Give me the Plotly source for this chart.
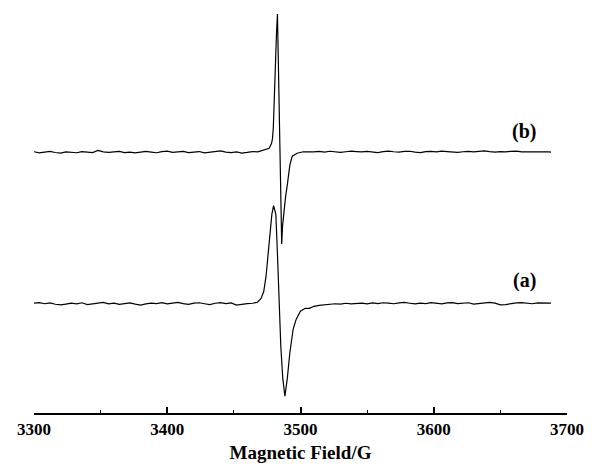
import plotly.graph_objects as go

# ---------------- data ----------------
# magnetic field (G) sample positions and derivative intensities (a.u.)
field_a = [3300, 3304, 3308, 3312, 3316, 3320, 3324, 3328, 3332, 3336, 3340, 3344, 3348, 3352,
           3356, 3360, 3364, 3368, 3372, 3376, 3380, 3384, 3388, 3392, 3396, 3400, 3404, 3408,
           3412, 3416, 3420, 3424, 3428, 3432, 3436, 3440, 3444, 3448, 3452, 3456, 3460, 3464,
           3467.5, 3470.4, 3472.4, 3474.1, 3475.8, 3477.3, 3478.5, 3479.8, 3481.5, 3482.7,
           3483.9, 3485.2, 3486.7, 3488.3, 3490.1, 3492.0, 3494.5, 3496.8, 3499.9, 3503.6,
           3506.8, 3510, 3514, 3518,
           3522, 3526, 3530, 3534, 3538, 3542, 3546, 3550, 3554, 3558, 3562, 3566, 3570, 3574,
           3578, 3582, 3586, 3590, 3594, 3598, 3602, 3606, 3610, 3614, 3618, 3622, 3626, 3630,
           3634, 3638, 3642, 3646, 3650, 3654, 3658, 3662, 3666, 3670, 3674, 3678, 3682, 3686,
           3688]
signal_a = [0.2, 0.8, -0.4, 0.5, -0.9, -1.6, -0.7, 0.3, -0.5, 0.6, -1.2, -0.3, 0.4, 0.9,
            -0.6, 0.2, -1.0, -0.4, 0.5, -0.8, -1.8, -0.6, 0.3, -0.2, 0.7, -0.5, 0.4, 0.9,
            -0.3, -1.1, 0.2, 0.6, -0.4, -1.3, 0.1, 0.8, -0.2, 0.5, -1.7, -0.8, -0.3, 0.1,
            1, 5, 12, 27, 50, 74, 90, 99, 90, 50,
            0, -43, -76, -94, -76, -50, -26, -16, -8, -5,
            -5, -3, -2, -1.5,
            -1.0, -0.4, -0.8, 0.1, -0.6, -0.2, 0.3, -0.5, 0.4, -0.3, 0.6, 0.2, -0.4, 0.5,
            0.9, 0.1, -0.6, 0.3, -0.2, 0.7, 0.2, -0.5, 0.4, 0.8, -0.3, 0.1, 0.6, -0.7,
            -0.2, 0.5, 0.9, 0.3, -1.6, -1.2, -0.3, 0.4, 0.7, 0.1, -0.4, 0.5, 0.2, -0.1,
            0.3]

field_b = [3300, 3304, 3308, 3312, 3316, 3320, 3324, 3328, 3332, 3336, 3340, 3344, 3348, 3352,
           3356, 3360, 3364, 3368, 3372, 3376, 3380, 3384, 3388, 3392, 3396, 3400, 3404, 3408,
           3412, 3416, 3420, 3424, 3428, 3432, 3436, 3440, 3444, 3448, 3452, 3456, 3460, 3464,
           3468,
           3472.6, 3476.5, 3478.3, 3479.0, 3479.6, 3480.2, 3480.9, 3482.0, 3482.7, 3483.4,
           3484.0, 3484.6, 3485.2, 3485.9, 3486.5, 3487.6, 3488.8, 3490.1, 3492.0, 3493.8,
           3497.5, 3502, 3506,
           3510, 3514, 3518, 3522, 3526, 3530, 3534, 3538, 3542, 3546, 3550, 3554, 3558, 3562,
           3566, 3570, 3574, 3578, 3582, 3586, 3590, 3594, 3598, 3602, 3606, 3610, 3614, 3618,
           3622, 3626, 3630, 3634, 3638, 3642, 3646, 3650, 3654, 3658, 3662, 3666, 3670, 3674,
           3678, 3682, 3686, 3688]
signal_b = [0.5, -0.6, 0.2, 0.9, -0.3, -0.8, 0.4, 0.1, -0.5, 0.7, 0.2, -0.4, 1.8, 0.3,
            -0.2, 0.6, 0.9, -0.3, 0.2, -0.7, 0.4, 0.8, 0.1, -0.5, 0.6, 1.2, -0.2, 0.3,
            0.9, -0.4, 0.5, 0.7, -0.6, 0.2, 0.8, 1.3, 0.1, -0.4, 0.3, -0.8, -0.2, 0.6,
            0.4,
            2, 4, 9, 14, 25, 54, 87, 121, 140, 90,
            40, -10, -50, -93, -75, -59, -45, -33, -13, -4,
            -1, 0.5, 0.3,
            0.4, 0.8, 0.2, 1.0, 0.6, -0.2, 0.5, 1.1, 0.7, 0.3, 0.9, 0.4, -0.3, 0.6,
            1.2, 0.5, 0.2, 0.8, 1.0, 0.1, -0.4, 0.7, 0.9, 0.3, 1.1, 0.6, 0.2, -0.2,
            0.5, 0.9, 0.4, 0.8, 1.3, 0.6, 0.1, 0.7, 0.3, 0.9, 1.2, 0.4, 0.6, 0.2,
            0.8, 0.5, 0.3, 0.1]

offset_b = 153          # vertical stacking offset of spectrum (b)
labels = ["(a)", "(b)"]
label_x = 3668
label_y = [23, 174]

x_ticks = [3300, 3400, 3500, 3600, 3700]
x_title = "Magnetic Field/G"

# ---------------- figure ----------------
serif = "Liberation Serif, Times New Roman, serif"

fig = go.Figure()
fig.add_trace(go.Scatter(x=field_a, y=signal_a, mode="lines",
                         line=dict(color="black", width=1.2), showlegend=False,
                         hoverinfo="skip"))
fig.add_trace(go.Scatter(x=field_b, y=[v + offset_b for v in signal_b], mode="lines",
                         line=dict(color="black", width=1.2), showlegend=False,
                         hoverinfo="skip"))

for t, yy in zip(labels, label_y):
    fig.add_annotation(x=label_x, y=yy, text="<b>" + t + "</b>", showarrow=False,
                       font=dict(family=serif, size=20, color="black"))

fig.update_layout(
    width=594, height=470,
    margin=dict(l=34, r=18, t=10, b=52),
    paper_bgcolor="white", plot_bgcolor="white",
    xaxis=dict(
        range=[3300, 3700], tickvals=x_ticks, ticktext=["<b>%d</b>" % v for v in x_ticks],
        showline=True, linecolor="black", linewidth=1.5,
        ticks="inside", ticklen=6, tickwidth=1.5, tickcolor="black",
        minor=dict(dtick=50, ticks="inside", ticklen=3, tickwidth=1.2, tickcolor="black"),
        showgrid=False, zeroline=False,
        tickfont=dict(family=serif, size=17, color="black"),
        title=dict(text="<b>" + x_title + "</b>", font=dict(family=serif, size=19, color="black"),
                   standoff=8),
    ),
    yaxis=dict(range=[-111, 297], visible=False, showgrid=False, zeroline=False),
)

fig.write_html(
    "out.html",
    config={"displayModeBar": False},
    post_script="document.body.style.margin='0';document.body.style.overflow='hidden';",
)
